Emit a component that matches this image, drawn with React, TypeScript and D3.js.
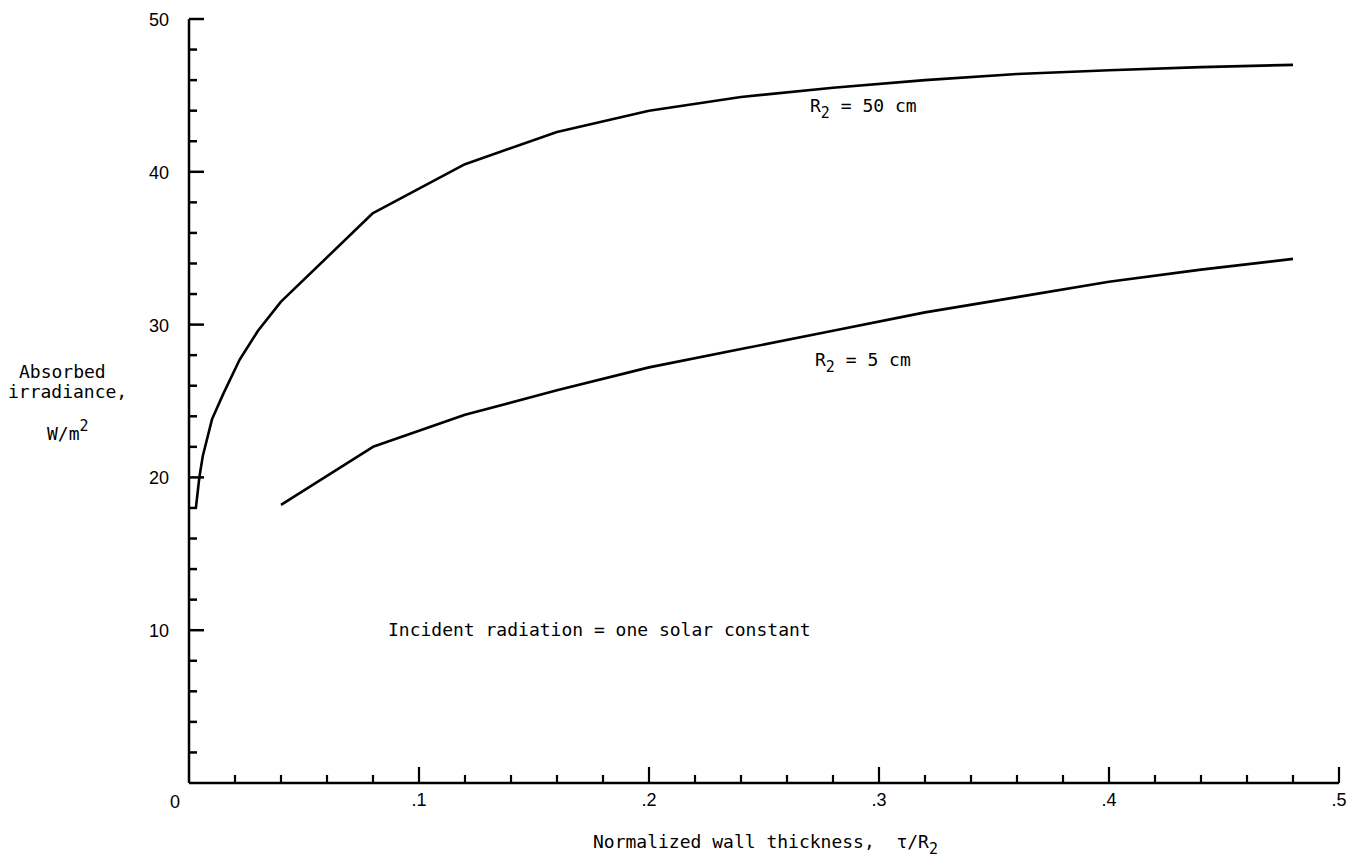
import React, { useEffect, useRef } from "react";
import * as d3 from "d3";

const thickness50 = [0.003, 0.0045, 0.006, 0.01, 0.015, 0.022, 0.03, 0.04, 0.08, 0.12, 0.16, 0.2, 0.24, 0.28, 0.32, 0.36, 0.4, 0.44, 0.48];
const irradiance50 = [18.0, 20.0, 21.4, 23.8, 25.5, 27.7, 29.6, 31.5, 37.3, 40.5, 42.6, 44.0, 44.9, 45.5, 46.0, 46.4, 46.65, 46.85, 47.0];
const thickness5 = [0.04, 0.08, 0.12, 0.16, 0.2, 0.24, 0.28, 0.32, 0.36, 0.4, 0.44, 0.48];
const irradiance5 = [18.2, 22.0, 24.1, 25.7, 27.2, 28.4, 29.6, 30.8, 31.8, 32.8, 33.6, 34.3];
const xTickLabels = [".1", ".2", ".3", ".4", ".5"];
const xTickValues = [0.1, 0.2, 0.3, 0.4, 0.5];
const yTickValues = [10, 20, 30, 40, 50];

const W = 1367;
const H = 865;
const MONO = "'DejaVu Sans Mono', monospace";
const SANS = "'Liberation Sans', Arial, sans-serif";

export default function App() {
  const ref = useRef<SVGSVGElement | null>(null);

  useEffect(() => {
    const svg = d3.select(ref.current);
    svg.selectAll("*").remove();
    const x = d3.scaleLinear().domain([0, 0.5]).range([189, 1339]);
    const y = d3.scaleLinear().domain([0, 50]).range([783, 19]);

    const g = svg.append("g");
    // axes lines
    g.append("line").attr("x1", x(0)).attr("x2", x(0)).attr("y1", y(50)).attr("y2", y(0))
      .attr("stroke", "#000").attr("stroke-width", 2.5);
    g.append("line").attr("x1", x(0)).attr("x2", x(0.5)).attr("y1", y(0)).attr("y2", y(0))
      .attr("stroke", "#000").attr("stroke-width", 2.5);

    // y ticks every 2
    const yTicks = d3.range(2, 51, 2);
    g.selectAll(".yt").data(yTicks).enter().append("line")
      .attr("x1", x(0)).attr("x2", (d) => x(0) + (d % 10 === 0 ? 15 : 8))
      .attr("y1", (d) => y(d)).attr("y2", (d) => y(d))
      .attr("stroke", "#000").attr("stroke-width", 2.5);
    // x ticks every 0.02
    const xTicks = d3.range(1, 26).map((i) => i * 0.02);
    g.selectAll(".xt").data(xTicks).enter().append("line")
      .attr("x1", (d) => x(d)).attr("x2", (d) => x(d))
      .attr("y1", y(0)).attr("y2", (d, i) => y(0) - ((i + 1) % 5 === 0 ? 16 : 8))
      .attr("stroke", "#000").attr("stroke-width", 2.2);

    // y tick labels
    g.selectAll(".yl").data(yTickValues).enter().append("text")
      .attr("x", 169).attr("y", (d) => y(d) + 7)
      .attr("text-anchor", "end").attr("font-family", SANS).attr("font-size", 18)
      .text((d) => String(d));
    // x tick labels
    g.selectAll(".xl").data(xTickValues).enter().append("text")
      .attr("x", (d) => x(d)).attr("y", 806)
      .attr("text-anchor", "middle").attr("font-family", SANS).attr("font-size", 18)
      .text((d, i) => xTickLabels[i]);
    g.append("text").attr("x", 175).attr("y", 808).attr("text-anchor", "middle")
      .attr("font-family", SANS).attr("font-size", 18).text("0");

    // curves
    const line = d3.line<[number, number]>().x((d) => x(d[0])).y((d) => y(d[1]));
    const up: [number, number][] = thickness50.map((t, i) => [t, irradiance50[i]]);
    const lo: [number, number][] = thickness5.map((t, i) => [t, irradiance5[i]]);
    [up, lo].forEach((pts) => {
      g.append("path").attr("d", line(pts) as string).attr("fill", "none")
        .attr("stroke", "#000").attr("stroke-width", 2.6).attr("stroke-linejoin", "round");
    });

    // curve labels
    const addR = (px: number, py: number, rest: string) => {
      const t = g.append("text").attr("x", px).attr("y", py)
        .attr("font-family", MONO).attr("font-size", 18);
      t.append("tspan").text("R");
      t.append("tspan").attr("dy", 6).attr("font-size", 15).text("2");
      t.append("tspan").attr("dy", -6).text(rest);
    };
    addR(810, 112, "\u00a0=\u00a050\u00a0cm");
    addR(815, 366, "\u00a0=\u00a05\u00a0cm");

    g.append("text").attr("x", 388).attr("y", 636).attr("font-family", MONO).attr("font-size", 18)
      .text("Incident radiation = one solar constant");

    // y-axis title
    const yl = [
      { t: "Absorbed", x: 19, y: 378 },
      { t: "irradiance,", x: 8, y: 398 },
    ];
    yl.forEach((d) => {
      g.append("text").attr("x", d.x).attr("y", d.y).attr("font-family", MONO).attr("font-size", 18).text(d.t);
    });
    const wm = g.append("text").attr("x", 47).attr("y", 440).attr("font-family", MONO).attr("font-size", 18);
    wm.append("tspan").text("W/m");
    wm.append("tspan").attr("dy", -9).attr("font-size", 15).text("2");

    // x-axis title
    const xt = g.append("text").attr("x", 593).attr("y", 848).attr("font-family", MONO).attr("font-size", 18);
    xt.append("tspan").text("Normalized wall thickness,\u00a0\u00a0\u03c4/R");
    xt.append("tspan").attr("dy", 6).attr("font-size", 15).text("2");
  }, []);

  return (
    <svg
      ref={ref}
      width={W}
      height={H}
      style={{ position: "absolute", left: 0, top: 0, background: "#fff" }}
    />
  );
}
